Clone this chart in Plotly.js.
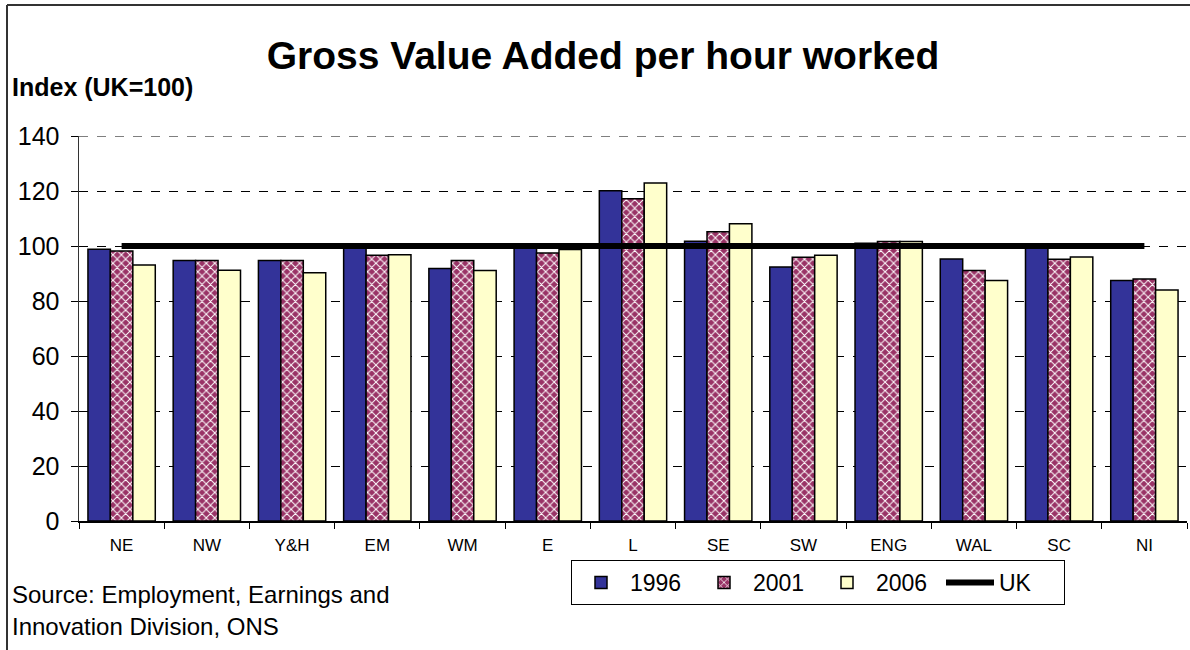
<!DOCTYPE html>
<html>
<head>
<meta charset="utf-8">
<script src="https://cdn.plot.ly/plotly-3.0.1.min.js"></script>
<style>
html,body{margin:0;padding:0;background:#fff;}
#chart{width:1190px;height:650px;}
</style>
</head>
<body>
<div id="chart"></div>
<script>
const regions = ['NE','NW','Y&H','EM','WM','E','L','SE','SW','ENG','WAL','SC','NI'];
const v1996 = [98.8, 94.7, 94.7, 99.5, 91.8, 99.6, 120.1, 101.7, 92.4, 101.0, 95.3, 99.6, 87.5];
const v2001 = [98.2, 94.7, 94.7, 96.6, 94.7, 97.5, 117.2, 105.2, 95.9, 101.6, 91.1, 95.2, 88.0];
const v2006 = [93.1, 91.2, 90.3, 96.8, 91.1, 98.7, 122.9, 108.1, 96.6, 101.6, 87.5, 96.0, 84.0];
const ukIndex = [100,100,100,100,100,100,100,100,100,100,100,100,100];
const seriesNames = ['1996','2001','2006','UK'];
const yMax = 140;

const FONT = 'Liberation Sans, Arial, sans-serif';
const outline = {color:'#000000', width:1.5};

const traces = [
  {type:'bar', name:seriesNames[0], x:regions, y:v1996,
   marker:{color:'#333399', line:outline}},
  {type:'bar', name:seriesNames[1], x:regions, y:v2001,
   marker:{color:'#993366', line:outline,
     pattern:{shape:'x', bgcolor:'#993366', fgcolor:'#ffffff', size:6, solidity:0.3}}},
  {type:'bar', name:seriesNames[2], x:regions, y:v2006,
   marker:{color:'#FFFFCC', line:outline}},
  {type:'scatter', mode:'lines', name:seriesNames[3], x:regions, y:ukIndex,
   line:{color:'#000000', width:6}}
];

const L = 79, R = 1187, T = 136, B = 521;
const pw = R - L, ph = B - T;
const px = v => (v - L) / pw;
const py = v => (B - v) / ph;

const layout = {
  width:1190, height:650,
  margin:{l:L, r:1190-R, t:T, b:650-B, pad:0, autoexpand:false},
  paper_bgcolor:'#ffffff', plot_bgcolor:'#ffffff',
  font:{family:FONT, color:'#000000'},
  barmode:'group', bargap:0.21, bargroupgap:0,
  title:{text:'<b>Gross Value Added per hour worked</b>', font:{family:FONT, size:39, color:'#000'},
    x:603/1190, xanchor:'center', xref:'container', y:1-55/650, yanchor:'middle', yref:'container'},
  xaxis:{type:'category', showline:true, linecolor:'#000', linewidth:1.5,
    ticks:'outside', tickson:'boundaries', ticklen:6, tickcolor:'#000', tickwidth:1,
    tickfont:{family:FONT, size:17}, ticklabelstandoff:8, showgrid:false, fixedrange:true},
  yaxis:{range:[0,yMax], tickvals:[0,20,40,60,80,100,120,140], showline:true, linecolor:'#333', linewidth:1.5,
    ticks:'outside', ticklen:7, tickcolor:'#000', tickwidth:1,
    tickfont:{family:FONT, size:25}, ticklabelstandoff:6,
    showgrid:true, gridcolor:'#000', gridwidth:1, griddash:'dash', zeroline:false, fixedrange:true},
  showlegend:true,
  legend:{orientation:'h', x:px(571), xanchor:'left', y:py(560), yanchor:'top',
    bordercolor:'#000', borderwidth:1, bgcolor:'#fff',
    font:{family:FONT, size:23}, itemwidth:48, entrywidth:60, entrywidthmode:'pixels',
    traceorder:'normal', tracegroupgap:0},
  annotations:[
    {text:'<b>Index (UK=100)</b>', xref:'paper', yref:'paper', x:px(10), y:py(87),
     xanchor:'left', yanchor:'middle', showarrow:false, font:{family:FONT, size:25}},
    {text:'Source: Employment, Earnings and', xref:'paper', yref:'paper', x:px(10), y:py(594),
     xanchor:'left', yanchor:'middle', showarrow:false, font:{family:FONT, size:24}},
    {text:'Innovation Division, ONS', xref:'paper', yref:'paper', x:px(10), y:py(626),
     xanchor:'left', yanchor:'middle', showarrow:false, font:{family:FONT, size:24}}
  ],
  shapes:[
    {type:'line', xref:'paper', yref:'y', x0:0, x1:1, y0:yMax, y1:yMax,
     line:{color:'#000', width:1, dash:'dash'}},
    {type:'line', xref:'paper', yref:'paper', x0:px(7), x1:px(1190), y0:py(5), y1:py(5),
     line:{color:'#333', width:2}},
    {type:'line', xref:'paper', yref:'paper', x0:px(7), x1:px(7), y0:py(5), y1:py(650),
     line:{color:'#333', width:2}}
  ]
};

Plotly.newPlot('chart', traces, layout, {displayModeBar:false, staticPlot:true});
</script>
</body>
</html>
